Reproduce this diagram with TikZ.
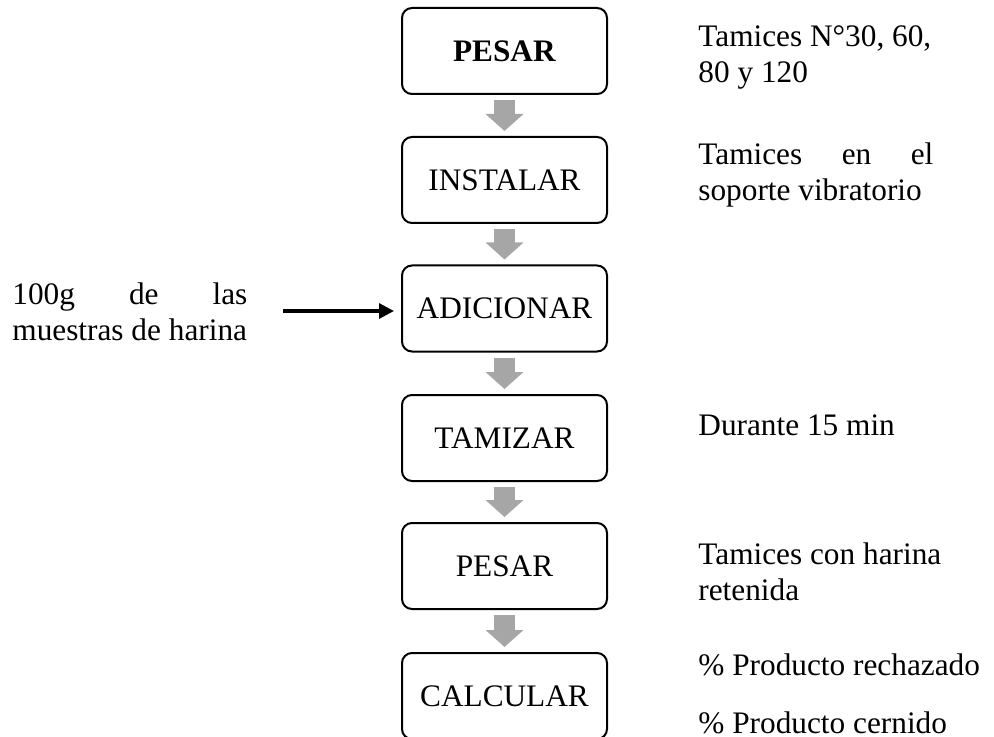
\documentclass[tikz,border=0pt]{standalone}
\usepackage{fontspec}
\setmainfont{Liberation Serif}
\usetikzlibrary{arrows.meta}
\definecolor{arrowgray}{RGB}{166,166,166}
\tikzset{
  stepbox/.style={draw=black, line width=1pt, rounded corners=5pt, fill=white,
    minimum width=102.5pt, minimum height=43pt, inner sep=0pt,
    font=\fontsize{15.65pt}{18pt}\selectfont},
  note/.style={anchor=base west, inner sep=0pt, font=\fontsize{15.65pt}{18pt}\selectfont},
  flowarrow/.style={draw=arrowgray, line width=10.5pt,
    -{Triangle[width=18.5pt,length=8.5pt,fill=arrowgray]},
    shorten <=2.5pt, shorten >=2.5pt},
  inarrow/.style={draw=black, line width=1.6pt,
    -{Triangle[width=7.5pt,length=7.5pt]}, shorten >=3.5pt}
}
\begin{document}
\begin{tikzpicture}[x=0.5pt,y=-0.5pt]
\path[use as bounding box, clip] (0,0) rectangle (994,737);
\fill[white] (0,0) rectangle (994,737);
% boxes
\node[stepbox] (b1) at (504.5,51) {\textbf{PESAR}};
\node[stepbox] (b2) at (504.5,180) {INSTALAR};
\node[stepbox] (b3) at (504.5,308.5) {ADICIONAR};
\node[stepbox] (b4) at (504.5,438) {TAMIZAR};
\node[stepbox] (b5) at (504.5,566) {PESAR};
\node[stepbox] (b6) at (504.5,696) {CALCULAR};
% gray arrows
\draw[flowarrow] (b1.south) -- (b2.north);
\draw[flowarrow] (b2.south) -- (b3.north);
\draw[flowarrow] (b3.south) -- (b4.north);
\draw[flowarrow] (b4.south) -- (b5.north);
\draw[flowarrow] (b5.south) -- (b6.north);
% input arrow
\coordinate (in) at (283,311);
\draw[inarrow] (in) -- (in -| b3.west);
% left text
\node[note] (l1) at (12,305) {\makebox[117.5pt][s]{100g de las}};
\node[note] (l2) at (12,340) {muestras de harina};
% right notes
\node[note] (r1a) at (698,47) {Tamices N°30, 60,};
\node[note] (r1b) at (698,83) {80 y 120};
\node[note] (r2a) at (698,165) {\makebox[117.5pt][s]{Tamices en el}};
\node[note] (r2b) at (698,201) {soporte vibratorio};
\node[note] (r4) at (698,435) {Durante 15 min};
\node[note] (r5a) at (698,564) {Tamices con harina};
\node[note] (r5b) at (698,600) {retenida};
\node[note] (r6a) at (698,675) {\% Producto rechazado};
\node[note] (r6b) at (698,733) {\% Producto cernido};
\end{tikzpicture}
\end{document}
